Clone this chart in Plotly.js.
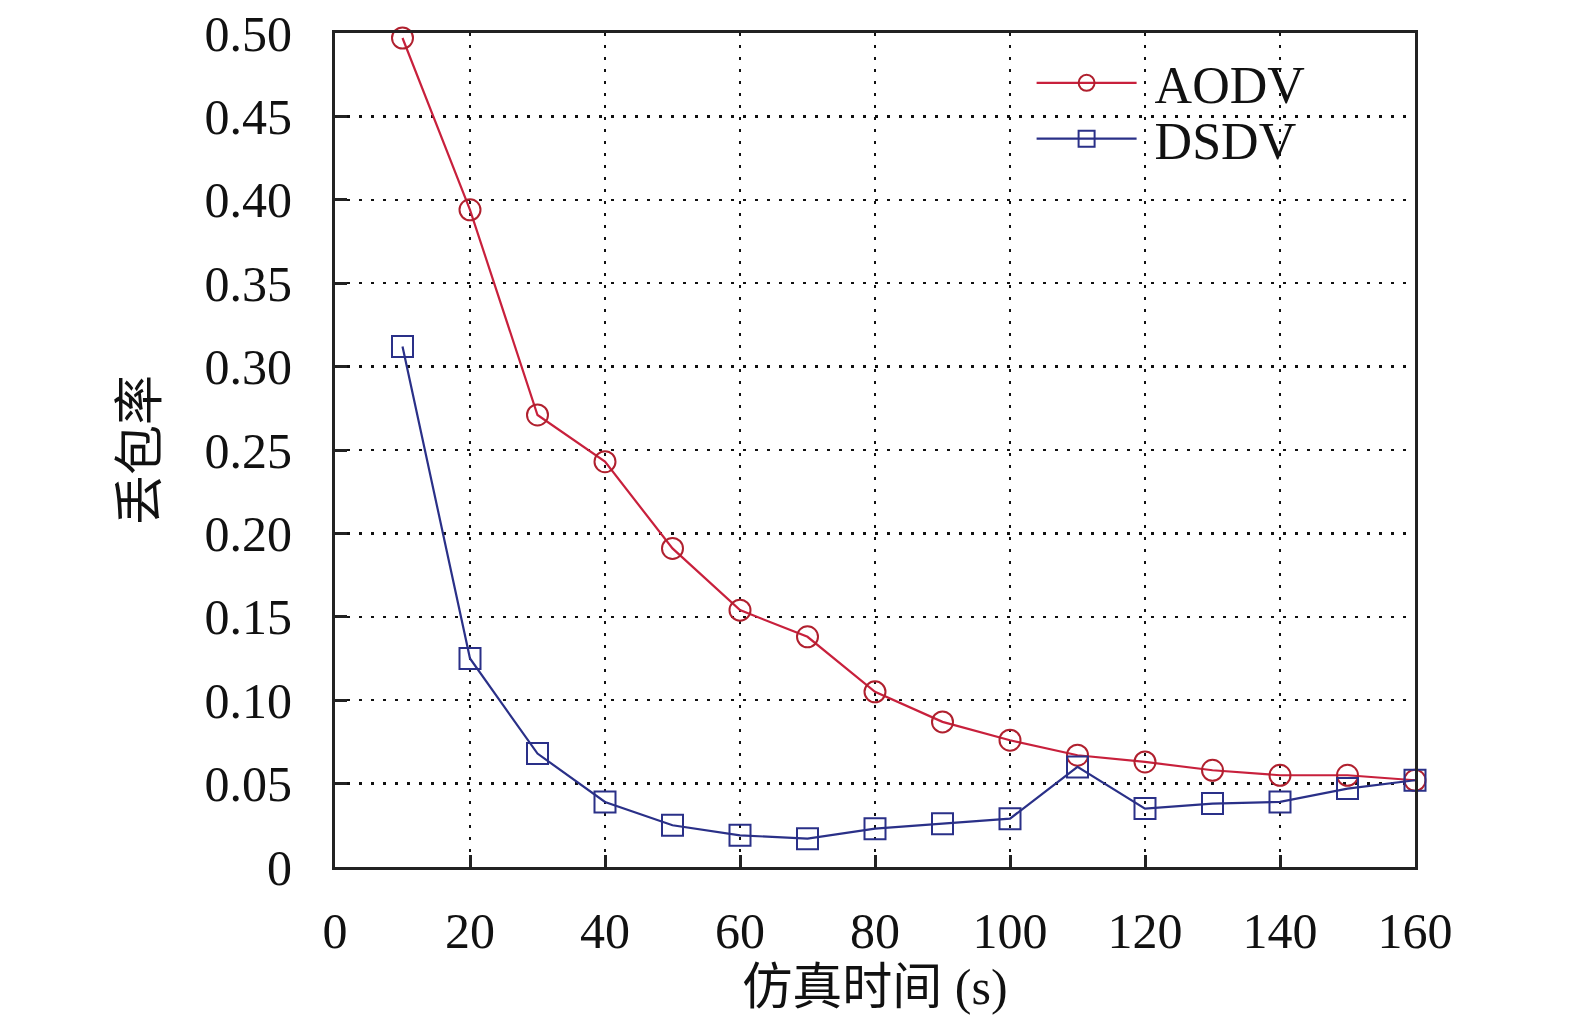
<!DOCTYPE html>
<html lang="zh">
<head>
    <meta charset="UTF-8">
    <title>丢包率</title>
    <script src="https://cdn.plot.ly/plotly-3.0.1.min.js"></script>
    <style>
        body { margin: 0; background: #fff; }
    </style>
</head>
<body>
<div id="plot" style="width:1575px;height:1030px;"></div>
<script>
    // simulation time (s)
    const simTime = [10, 20, 30, 40, 50, 60, 70, 80, 90, 100, 110, 120, 130, 140, 150, 160]
    const aodvLoss = [0.497, 0.394, 0.271, 0.243, 0.191, 0.154, 0.138, 0.105, 0.087, 0.076, 0.067, 0.063, 0.058, 0.055, 0.055, 0.052]
    const dsdvLoss = [0.312, 0.125, 0.068, 0.039, 0.025, 0.019, 0.017, 0.023, 0.026, 0.029, 0.060, 0.035, 0.038, 0.039, 0.047, 0.052]

    const xTicks = [0, 20, 40, 60, 80, 100, 120, 140, 160]
    const yTicks = [0, 0.05, 0.10, 0.15, 0.20, 0.25, 0.30, 0.35, 0.40, 0.45, 0.50]
    const yTickText = ['0', '0.05', '0.10', '0.15', '0.20', '0.25', '0.30', '0.35', '0.40', '0.45', '0.50']

    const serif = 'Liberation Serif, Times New Roman, serif'

    const aodv = {
        x: simTime,
        y: aodvLoss,
        mode: 'lines+markers',
        type: 'scatter',
        name: '\u00a0AODV',
        legend: 'legend',
        line: {color: '#c8203c', width: 2.2},
        marker: {symbol: 'circle-open', size: 21, color: '#b0202e', line: {width: 2}},
        cliponaxis: false,
    }

    const dsdv = {
        x: simTime,
        y: dsdvLoss,
        mode: 'lines+markers',
        type: 'scatter',
        name: '\u00a0DSDV',
        legend: 'legend2',
        line: {color: '#2a3088', width: 2.2},
        marker: {symbol: 'square-open', size: 21, color: '#2a3088', line: {width: 2}},
        cliponaxis: false,
    }

    const legendBase = {
        xanchor: 'left', yanchor: 'middle',
        bgcolor: 'rgba(0,0,0,0)',
        font: {family: serif, size: 52, color: '#111'},
        itemwidth: 100,
    }

    const layout = {
        width: 1575,
        height: 1030,
        margin: {l: 335, r: 160, t: 33, b: 163},
        paper_bgcolor: '#fff',
        plot_bgcolor: '#fff',
        font: {family: serif, color: '#111', size: 50},
        showlegend: true,
        legend: Object.assign({}, legendBase, {x: 0.645, y: 0.94}),
        legend2: Object.assign({}, legendBase, {x: 0.645, y: 0.873}),
        xaxis: {
            range: [0, 160],
            tickvals: xTicks,
            ticks: 'inside', ticklen: 12, tickwidth: 3, tickcolor: '#222',
            ticklabelstandoff: 18,
            showline: true, linecolor: '#222', linewidth: 3, mirror: true,
            showgrid: true, gridcolor: '#111', griddash: '3px,9px', gridwidth: 2.5,
            zeroline: false,
            tickfont: {family: serif, size: 50},
            title: {text: '仿真时间 (s)', font: {family: 'Liberation Serif, Noto Sans CJK SC, serif', size: 50}, standoff: 10},
        },
        yaxis: {
            range: [0, 0.5],
            tickvals: yTicks,
            ticktext: yTickText,
            ticks: 'inside', ticklen: 12, tickwidth: 3, tickcolor: '#222',
            ticklabelstandoff: 30,
            showline: true, linecolor: '#222', linewidth: 3, mirror: true,
            showgrid: true, gridcolor: '#111', griddash: '3px,9px', gridwidth: 2.5,
            zeroline: false,
            tickfont: {family: serif, size: 50},
            title: {text: '丢包率', font: {family: 'Noto Sans CJK SC, serif', size: 50}, standoff: 32},
        },
    }

    Plotly.newPlot('plot', [aodv, dsdv], layout, {displayModeBar: false, staticPlot: true})
</script>
</body>
</html>
